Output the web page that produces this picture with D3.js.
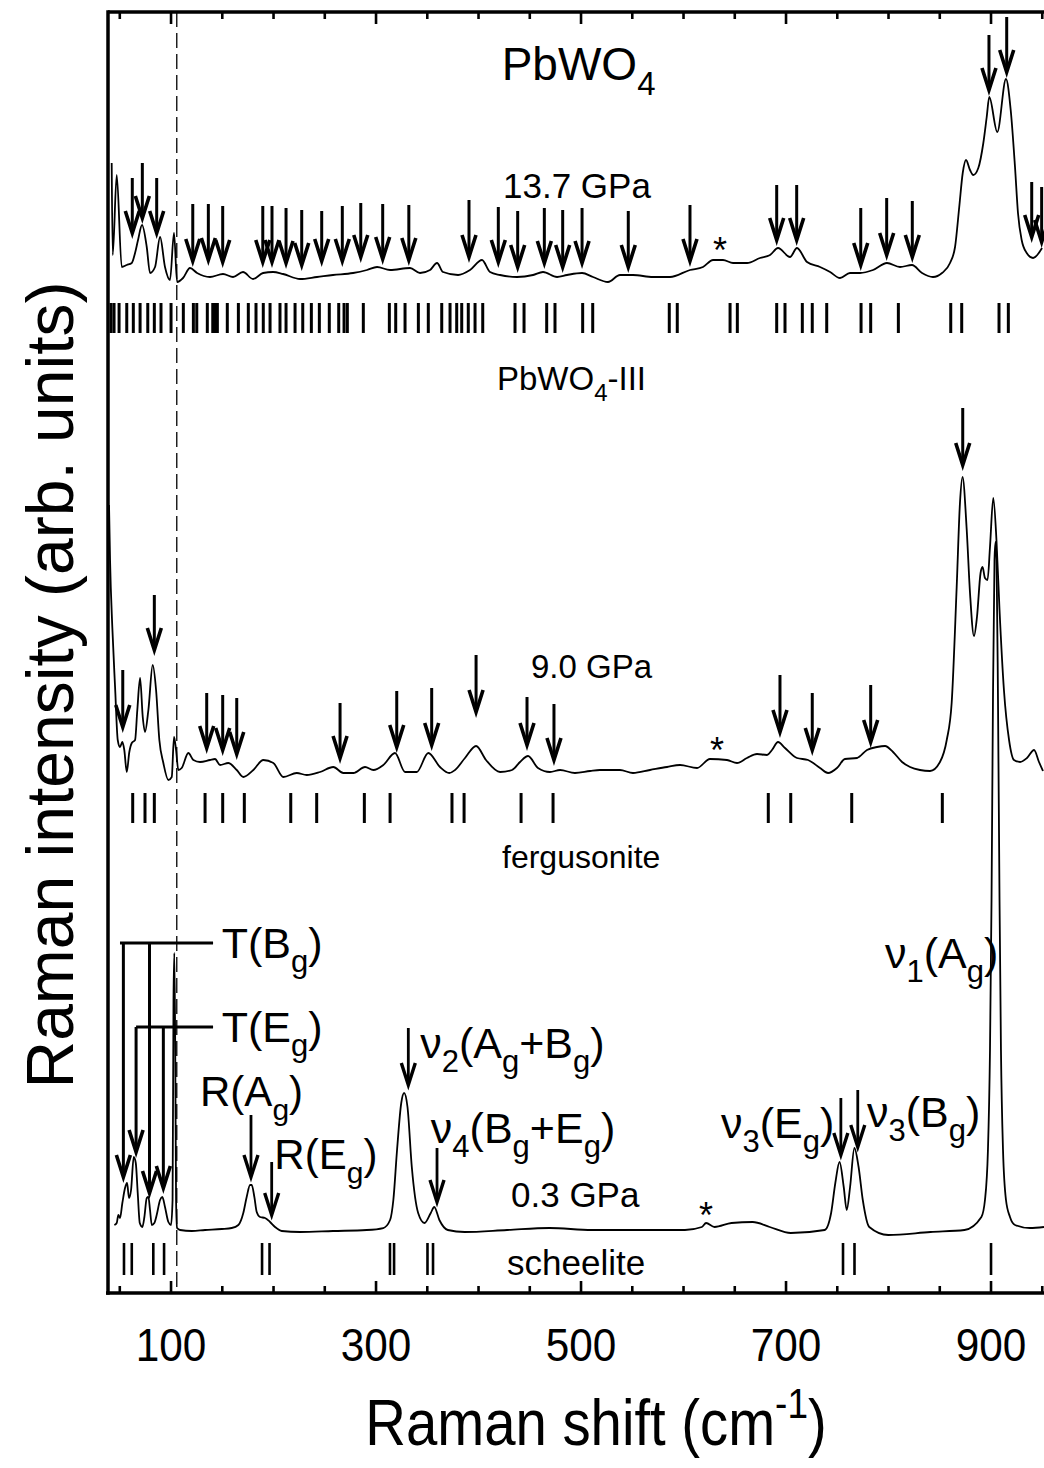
<!DOCTYPE html>
<html><head><meta charset="utf-8">
<script src="https://cdn.jsdelivr.net/npm/d3@7"></script>
<style>body{margin:0;background:#fff}svg{display:block}text{font-family:"Liberation Sans",Arial,sans-serif;fill:#000}</style>
</head><body><svg id="c" width="1044" height="1468"></svg>
<script>
// ---------- DATA (x: Raman shift cm^-1, y: stacked intensity, arb. units) ----------
const spec137 = [[42.1,1130],[43.1,1038],[47.0,1118],[51.9,1026],[56.8,1028],[61.7,1030],[64.9,1040],[67.8,1053],[71.7,1068],[76.3,1046],[79.5,1020],[84.4,1026],[89.3,1056],[94.1,1026],[99.0,1013],[102.9,1060],[105.9,1011],[111.7,1015],[118.5,1025],[125.4,1020],[138.0,1016],[150.7,1019],[160.5,1016],[170.2,1021],[180.0,1014],[189.8,1020],[199.5,1021],[209.3,1019],[225.9,1014],[242.4,1016],[258.0,1018],[277.6,1020],[291.2,1023],[301.0,1026],[313.7,1023],[333.2,1025],[342.9,1020],[352.7,1023],[359.5,1030],[365.4,1021],[380.0,1018],[391.7,1023],[403.4,1033],[411.2,1021],[421.0,1018],[437.5,1016],[453.2,1018],[462.9,1021],[476.6,1016],[486.3,1018],[501.0,1020],[511.7,1016],[526.3,1011],[538.0,1018],[550.7,1018],[570.2,1016],[586.8,1016],[606.3,1023],[619.0,1026],[628.8,1033],[638.5,1033],[648.3,1030],[662.0,1030],[674.6,1035],[684.4,1038],[692.2,1045],[703.9,1036],[710.7,1045],[720.5,1031],[733.2,1026],[743.0,1021],[752.7,1015],[762.4,1020],[772.2,1020],[784.9,1023],[798.5,1030],[811.2,1026],[822.9,1028],[832.7,1020],[843.4,1016],[852.2,1020],[860.0,1030],[864.9,1046],[869.0,1086],[872.4,1120],[875.6,1133],[879.5,1123],[882.7,1118],[887.6,1125],[892.5,1150],[895.8,1176],[898.3,1196],[906.1,1161],[914.6,1214],[919.2,1183],[923.4,1126],[926.3,1080],[929.9,1053],[934.8,1040],[941.0,1035],[949.8,1045]];

const spec90 = [[39.5,788],[40.5,733],[42.7,666],[45.4,606],[48.0,553],[50.2,546],[52.5,551],[54.4,543],[56.8,521],[59.3,541],[61.7,550],[64.9,553],[67.1,583],[69.8,615],[72.4,576],[74.6,561],[77.9,583],[82.1,628],[85.4,603],[88.6,553],[92.5,530],[97.4,513],[100.7,516],[102.9,556],[104.9,543],[107.1,523],[110.4,525],[116.9,540],[121.8,533],[128.3,531],[138.0,533],[142.9,534],[147.8,528],[155.9,530],[164.1,523],[170.5,516],[180.3,523],[190.0,533],[199.8,530],[209.6,516],[222.6,520],[232.4,518],[245.4,521],[258.3,526],[268.1,520],[277.9,520],[289.3,526],[297.4,523],[307.1,528],[318.5,540],[328.3,521],[339.7,521],[351.0,540],[362.4,526],[371.5,520],[377.1,523],[386.8,535],[397.6,547],[407.3,533],[421.0,521],[432.7,523],[440.5,531],[448.3,537],[458.0,525],[469.7,521],[479.5,523],[494.1,520],[508.8,522],[518.5,523],[538.0,523],[550.7,520],[567.3,523],[583.9,526],[596.6,528],[613.2,525],[625.8,534],[642.4,533],[652.2,530],[661.9,535],[671.7,539],[681.5,538],[686.3,543],[692.2,551],[699.0,545],[710.7,535],[721.5,533],[733.2,525],[741.0,520],[749.7,525],[757.5,534],[769.3,535],[779.0,543],[788.8,546],[796.6,547],[804.4,541],[813.2,531],[821.0,526],[830.7,523],[840.5,522],[850.2,531],[856.8,553],[861.6,590],[866.5,706],[869.7,790],[872.2,816],[876.3,763],[879.5,700],[883.4,657],[886.3,676],[889.8,720],[891.7,726],[894.1,715],[896.6,713],[899.0,746],[902.2,795],[905.3,753],[908.3,683],[912.6,603],[917.6,553],[922.4,533],[928.3,531],[935.1,535],[942.0,543],[946.8,531],[950.7,522]];

const spec03 = [[44.7,68],[47.0,70],[48.6,78],[50.2,75],[52.5,90],[55.1,105],[57.1,110],[59.0,95],[61.0,103],[63.6,136],[65.6,130],[67.5,100],[69.5,70],[72.0,66],[74.0,76],[76.3,95],[77.9,96],[79.5,83],[81.2,68],[83.7,70],[86.0,78],[89.3,93],[91.5,96],[94.1,86],[97.4,71],[100.0,68],[101.5,93],[102.4,293],[103.2,340],[104.1,243],[104.9,93],[105.9,65],[108.8,63],[120.2,62],[133.2,63],[149.5,64],[159.2,65],[165.7,68],[170.5,80],[173.8,96],[177.1,108],[178.7,108],[181.3,96],[183.6,81],[186.8,76],[191.7,75],[196.6,71],[201.5,66],[208.0,62],[225.9,61],[258.0,62],[290.9,63],[307.1,65],[313.7,73],[316.9,93],[320.5,143],[324.6,190],[327.4,200],[330.7,186],[334.9,126],[341.1,80],[347.3,70],[353.4,80],[356.8,86],[361.8,73],[370.0,63],[386.5,61],[427.8,63],[469.2,65],[510.5,63],[551.8,63],[601.4,63],[617.9,66],[622.0,70],[630.3,66],[646.8,70],[667.5,71],[684.1,66],[704.7,60],[737.7,63],[744.0,80],[748.1,110],[752.2,131],[756.3,106],[759.2,83],[762.5,106],[766.7,145],[770.8,126],[774.9,93],[781.2,66],[799.8,58],[841.0,61],[874.1,63],[890.6,76],[894.1,93],[897.0,143],[899.0,243],[900.5,393],[901.9,593],[903.4,733],[904.4,751],[905.4,733],[906.8,593],[908.3,393],[909.7,243],[911.7,143],[914.6,93],[918.5,76],[923.4,68],[938.0,65],[951.7,66]];

// calculated mode positions (cm^-1)
const modesIII = [41.5,44.4,49.3,56.8,63.2,69.8,77.3,83.7,90.2,100.0,112.0,121.8,125.1,135.4,140.7,142.9,145.2,154.9,165.7,175.4,182.9,190.0,196.6,206.3,212.2,221.0,228.5,236.9,244.7,254.4,263.6,268.8,272.0,287.6,313.0,319.2,328.3,341.3,351.0,364.1,372.2,378.7,383.6,390.0,396.6,404.1,435.6,444.4,466.5,474.6,501.6,511.4,586.1,593.9,645.4,652.5,690.9,699.0,715.9,725.6,739.7,773.2,782.6,809.6,860.7,871.4,907.8,916.9];
const modesFerg = [62.6,74.6,83.7,133.2,150.4,171.5,216.8,242.1,288.6,313.7,374.1,385.9,441.5,472.7,682.7,704.6,764.1,852.5];
const modesSch = [54.1,61.7,82.7,93.2,188.8,196.1,313.6,317.6,350.2,355.6,755.6,766.8,900.0];

// observed-mode arrows: [shift, top, tip]
const arrows137 = [[62.2,1115,1060],[72.0,1130,1075],[86.0,1115,1060],[121.2,1089,1032],[136.4,1089,1033],[150.4,1087,1031],[189.5,1087,1031],[198.5,1087,1031],[212.2,1085,1030],[227.5,1083,1028],[247.0,1082,1032],[267.1,1087,1032],[285.1,1090,1036],[306.5,1089,1034],[332.0,1088,1033],[390.7,1093,1036],[419.3,1086,1031],[438.2,1082,1026],[464.2,1085,1030],[482.1,1083,1026],[501.0,1085,1030],[546.1,1082,1026],[606.3,1088,1032],[690.9,1108,1053],[710.4,1108,1053],[772.9,1085,1028],[798.2,1095,1038],[823.2,1092,1036],[898.0,1258,1203],[915.3,1276,1221],[939.7,1111,1056],[949.4,1106,1051]];
const arrows90 = [[52.9,623,566],[83.7,698,643],[134.8,600,545],[150.4,598,543],[164.1,595,539],[264.9,590,535],[320.2,602,546],[354.3,605,548],[397.6,638,581],[447.3,596,548],[473.6,589,533],[694.1,618,561],[725.6,600,543],[782.6,608,551],[872.4,885,828]];
const arrows03 = [[178.0,178,116],[198.2,131,78],[331.5,265,208],[359.5,145,91],[753.5,195,138],[770.0,203,146]];
// leader groups for translational modes: [barY, xStart, xEnd, [[shift, tip],...]]
const leaderTBg = [350, 50.2, 141.0, [[53.5,116],[79.0,100]]];
const leaderTEg = [266, 65.9, 141.0, [[65.9,141],[92.5,105]]];

const xTicksMajor = [100,300,500,700,900];
const xTicksMinor = [50,150,200,250,350,400,450,550,600,650,750,800,850,950];

// ---------- SCALES ----------
const x = d3.scaleLinear().domain([38.5, 967.3]).range([108, 1060]);
const y = d3.scaleLinear().domain([0, 1281]).range([1293, 12]);
const svg = d3.select("#c");

svg.append("clipPath").attr("id","clip").append("rect")
  .attr("x",108).attr("y",12).attr("width",952).attr("height",1281);

// dashed guide line
svg.append("line").attr("x1",x(105.6)).attr("x2",x(105.6)).attr("y1",y(1281)).attr("y2",y(0))
  .attr("stroke","#000").attr("stroke-width",1.3).attr("stroke-dasharray","15,6");

// spectra
const line = d3.line().x(d=>x(d[0])).y(d=>y(d[1])).curve(d3.curveMonotoneX);
const gSpec = svg.append("g").attr("clip-path","url(#clip)");
[spec03, spec90, spec137].forEach(s=>{
  gSpec.append("path").datum(s).attr("d",line).attr("fill","none").attr("stroke","#000").attr("stroke-width",1.8).attr("stroke-linejoin","round");
});

// mode bars
function bars(arr, lo, hi, w){
  svg.append("g").selectAll("line").data(arr).join("line")
    .attr("x1",d=>x(d)).attr("x2",d=>x(d)).attr("y1",y(hi)).attr("y2",y(lo))
    .attr("stroke","#000").attr("stroke-width",w);
}
bars(modesIII, 960, 990, 3);
bars(modesFerg, 470, 500, 3);
bars(modesSch, 18, 50, 2.6);

// arrows
function arrow(g, xv, top, tip, w){
  const X = x(xv), T = y(top), P = y(tip);
  g.append("line").attr("x1",X).attr("x2",X).attr("y1",T).attr("y2",P-2)
    .attr("stroke","#000").attr("stroke-width",w);
  g.append("path").attr("d",`M${X-7},${P-22}L${X},${P}L${X+7},${P-22}`)
    .attr("fill","none").attr("stroke","#000").attr("stroke-width",w+0.6).attr("stroke-linejoin","miter");
}
const gA = svg.append("g");
arrows137.forEach(a=>arrow(gA,a[0],a[1],a[2],3));
arrows90.forEach(a=>arrow(gA,a[0],a[1],a[2],3));
arrows03.forEach(a=>arrow(gA,a[0],a[1],a[2],2.8));
[leaderTBg, leaderTEg].forEach(L=>{
  gA.append("line").attr("x1",x(L[1])).attr("x2",x(L[2])).attr("y1",y(L[0])).attr("y2",y(L[0]))
    .attr("stroke","#000").attr("stroke-width",3);
  L[3].forEach(v=>arrow(gA, v[0], L[0], v[1], 3));
});

// axes frame
const gAx = svg.append("g");
gAx.append("line").attr("x1",108).attr("x2",1060).attr("y1",y(1281)).attr("y2",y(1281)).attr("stroke","#000").attr("stroke-width",3.5);
gAx.append("line").attr("x1",106).attr("x2",1060).attr("y1",y(0)).attr("y2",y(0)).attr("stroke","#000").attr("stroke-width",3.5);
gAx.append("line").attr("x1",108).attr("x2",108).attr("y1",y(1281)-1.7).attr("y2",y(0)+1.7).attr("stroke","#000").attr("stroke-width",3.5);

function ticks(vals, len){
  vals.forEach(v=>{
    gAx.append("line").attr("x1",x(v)).attr("x2",x(v)).attr("y1",y(0)).attr("y2",y(0)-len).attr("stroke","#000").attr("stroke-width",2.6);
    gAx.append("line").attr("x1",x(v)).attr("x2",x(v)).attr("y1",y(1281)).attr("y2",y(1281)+len).attr("stroke","#000").attr("stroke-width",2.6);
  });
}
ticks(xTicksMajor, 12);
ticks(xTicksMinor, 7);
gAx.selectAll("text.tl").data(xTicksMajor).join("text").attr("class","tl")
  .attr("transform",d=>`translate(${x(d)},1361) scale(0.9,1)`).attr("text-anchor","middle").attr("font-size",47).text(d=>d);

// axis titles
svg.append("text").attr("transform","translate(73,685) rotate(-90)").attr("text-anchor","middle").attr("font-size",66)
  .text("Raman intensity (arb. units)");
const xt = svg.append("text").attr("transform","translate(596,1445) scale(0.88,1)").attr("text-anchor","middle").attr("font-size",64);
xt.append("tspan").text("Raman shift (cm");
xt.append("tspan").attr("font-size",42).attr("dy",-27).text("-1");
xt.append("tspan").attr("dy",27).text(")");

// rich labels (parts: [text, 0 normal | 1 subscript])
const labels = [
  {x:422.6,y:1213,s:46,p:[["PbWO",0],["4",1]]},
  {x:423.9,y:1095,s:35,p:[["13.7 GPa",0]]},
  {x:418.0,y:903,s:33,p:[["PbWO",0],["4",1],["-III",0]]},
  {x:451.2,y:615,s:33,p:[["9.0 GPa",0]]},
  {x:422.9,y:425,s:32,p:[["fergusonite",0]]},
  {x:431.7,y:86,s:35,p:[["0.3 GPa",0]]},
  {x:427.8,y:18,s:35,p:[["scheelite",0]]},
  {x:149.5,y:335,s:43,p:[["T(B",0],["g",1],[")",0]]},
  {x:149.5,y:251,s:43,p:[["T(E",0],["g",1],[")",0]]},
  {x:128.3,y:187,s:42,p:[["R(A",0],["g",1],[")",0]]},
  {x:200.8,y:124,s:42,p:[["R(E",0],["g",1],[")",0]]},
  {x:343.1,y:235,s:43,p:[["ν",0],["2",1],["(A",0],["g",1],["+B",0],["g",1],[")",0]]},
  {x:353.5,y:150,s:43,p:[["ν",0],["4",1],["(B",0],["g",1],["+E",0],["g",1],[")",0]]},
  {x:636.6,y:155,s:43,p:[["ν",0],["3",1],["(E",0],["g",1],[")",0]]},
  {x:779.0,y:166,s:43,p:[["ν",0],["3",1],["(B",0],["g",1],[")",0]]},
  {x:796.6,y:325,s:43,p:[["ν",0],["1",1],["(A",0],["g",1],[")",0]]}
];
labels.forEach(L=>{
  const t = svg.append("text").attr("x",x(L.x)).attr("y",y(L.y)).attr("font-size",L.s);
  let off = 0;
  L.p.forEach(([str,sub])=>{
    const target = sub ? Math.round(L.s*0.33) : 0;
    t.append("tspan").attr("dy",target-off).attr("font-size",sub?Math.round(L.s*0.72):L.s).text(str);
    off = target;
  });
});

// spurious-line markers
const stars = [[635.6,1033],[632.7,533],[621.9,68]];
svg.selectAll("text.st").data(stars).join("text").attr("class","st")
  .attr("x",d=>x(d[0])).attr("y",d=>y(d[1])+3).attr("text-anchor","middle").attr("font-size",36).text("*");
</script></body></html>
